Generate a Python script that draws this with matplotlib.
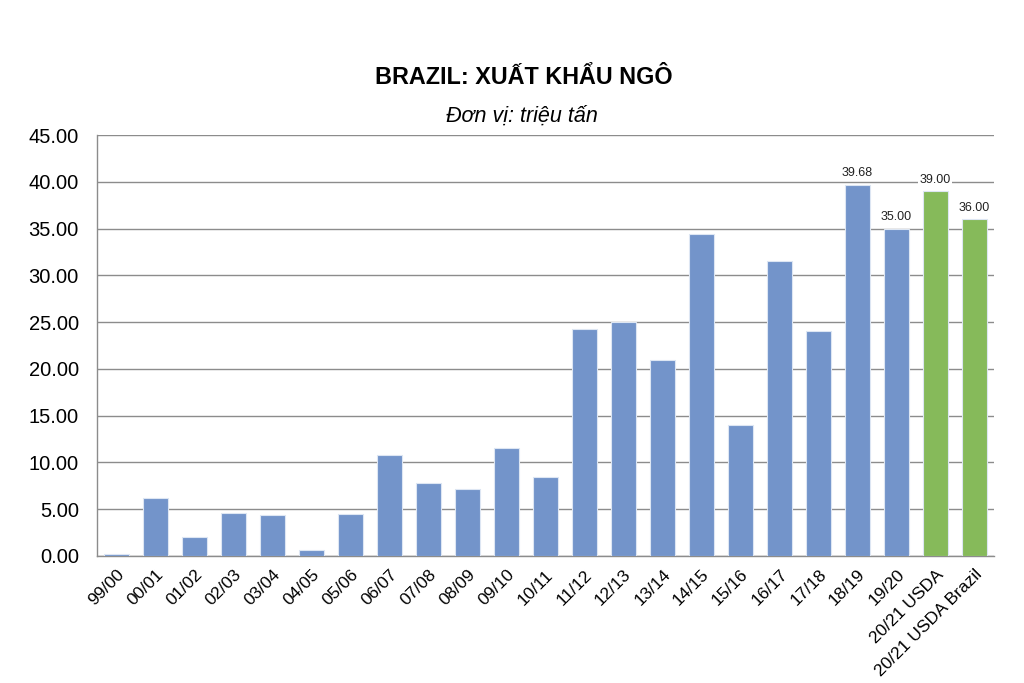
import matplotlib
matplotlib.use("Agg")
import matplotlib.pyplot as plt
import numpy as np

plt.rcParams['font.family'] = ['Liberation Sans', 'DejaVu Sans']

categories = ["99/00", "00/01", "01/02", "02/03", "03/04", "04/05", "05/06", "06/07",
              "07/08", "08/09", "09/10", "10/11", "11/12", "12/13", "13/14", "14/15",
              "15/16", "16/17", "17/18", "18/19", "19/20", "20/21 USDA", "20/21 USDA Brazil"]
values = [0.2, 6.24, 2.07, 4.56, 4.39, 0.68, 4.53, 10.84, 7.77, 7.13, 11.55, 8.42,
          24.32, 25.0, 21.0, 34.45, 13.98, 31.6, 24.1, 39.68, 35.0, 39.0, 36.0]
labeled = ["18/19", "19/20", "20/21 USDA", "20/21 USDA Brazil"]
forecast = ["20/21 USDA", "20/21 USDA Brazil"]
yticks = [0, 5, 10, 15, 20, 25, 30, 35, 40, 45]

blue = "#7394CA"
green = "#86BA5A"

fig = plt.figure(figsize=(10.24, 6.83), dpi=100)
ax = fig.add_axes([0.0947, 0.186, 0.876, 0.616])

x = np.arange(len(categories))
colors = [green if c in forecast else blue for c in categories]
bars = ax.bar(x, values, width=0.64, color=colors, edgecolor="#DDE6F3", linewidth=0.8, zorder=3)

for xi, c, v in zip(x, categories, values):
    if c in labeled:
        ax.text(xi, v + 0.6, f"{v:.2f}", ha="center", va="bottom", fontsize=9,
                color="#222222", zorder=4,
                bbox=dict(facecolor="white", edgecolor="none", pad=1.0))

ax.set_ylim(0, 45)
ax.set_xlim(-0.5, len(categories) - 0.5)
ax.set_yticks(yticks)
ax.set_yticklabels([f"{t:.2f}" for t in yticks], fontsize=14.5)
ax.set_xticks(x)
ax.set_xticklabels(categories, rotation=45, ha="right", rotation_mode="anchor", fontsize=12.5)
ax.tick_params(axis="x", length=0, pad=8)
ax.tick_params(axis="y", length=0, pad=13)
ax.yaxis.grid(True, color="#8C8C8C", linewidth=1.0, zorder=0)
ax.set_axisbelow(True)
for s in ["top", "right"]:
    ax.spines[s].set_visible(False)
for s in ["left", "bottom"]:
    ax.spines[s].set_color("#8C8C8C")
    ax.spines[s].set_linewidth(1.0)

fig.text(0.512, 0.887, "BRAZIL: XUẤT KHẨU NGÔ", ha="center", va="center",
         fontsize=16.8, fontweight="bold")
fig.text(0.51, 0.83, "Đơn vị: triệu tấn", ha="center", va="center",
         fontsize=15.5, style="italic")

fig.savefig("out.png", dpi=100)
